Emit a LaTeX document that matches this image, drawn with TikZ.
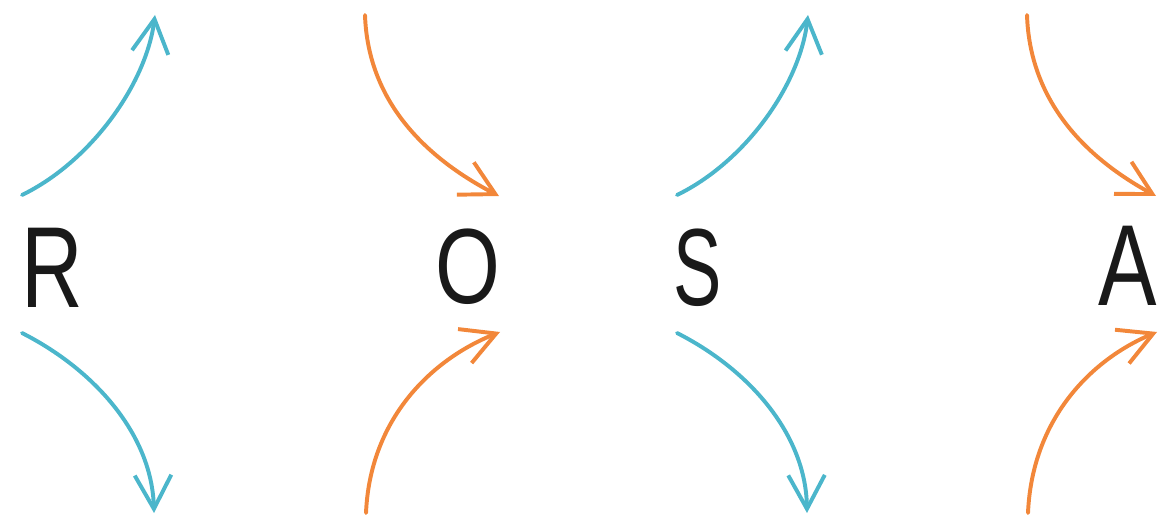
\documentclass[tikz,border=0pt]{standalone}
\usepackage{fontspec}
\setmainfont{Liberation Sans}
\usetikzlibrary{arrows.meta}
\definecolor{arrblue}{HTML}{4BB6CB}
\definecolor{arrorange}{HTML}{F2873A}
\tikzset{
  letter/.style={inner sep=0pt, outer sep=0pt, text=black!90, font=\fontsize{82}{82}\selectfont},
  curvearrow/.style={line width=2.8pt, line cap=round, line join=round,
    -{Straight Barb[length=24pt,width=26pt,line width=2.8pt]}},
  bluearr/.style={curvearrow, draw=arrblue},
  orangearr/.style={curvearrow, draw=arrorange}
}
\begin{document}
\begin{tikzpicture}[x=0.025cm,y=-0.025cm]
\useasboundingbox (0,0) rectangle (1160,518);
% letters
\node[letter] (R) at (52,268) {\scalebox{0.74}[1]{R}};
\node[letter,font=\fontsize{76}{76}\selectfont] (O) at (468,267) {\scalebox{0.78}[1]{O}};
\node[letter,font=\fontsize{78}{78}\selectfont] (S) at (698,268) {\scalebox{0.66}[1]{S}};
\node[letter] (A) at (1128,266) {\scalebox{0.76}[1]{A}};
% R group
\coordinate (r1s) at (22,195);  \coordinate (r1e) at (155,15);
\coordinate (r2s) at (22,333);  \coordinate (r2e) at (154,513);
\draw[bluearr] (r1s) .. controls (90,162) and (146,85) .. (r1e);
\draw[bluearr] (r2s) .. controls (95,370) and (152,435) .. (r2e);
% O group
\coordinate (o1s) at (365,15);  \coordinate (o1e) at (499,196);
\coordinate (o2s) at (366,513); \coordinate (o2e) at (500,332);
\draw[orangearr] (o1s) .. controls (368,105) and (430,160) .. (o1e);
\draw[orangearr] (o2s) .. controls (370,420) and (430,360) .. (o2e);
% S group
\coordinate (s1s) at (677,195); \coordinate (s1e) at (808,15);
\coordinate (s2s) at (677,333); \coordinate (s2e) at (807,513);
\draw[bluearr] (s1s) .. controls (745,162) and (800,85) .. (s1e);
\draw[bluearr] (s2s) .. controls (750,370) and (806,435) .. (s2e);
% A group
\coordinate (a1s) at (1027,15); \coordinate (a1e) at (1156,196);
\coordinate (a2s) at (1028,513); \coordinate (a2e) at (1157,332);
\draw[orangearr] (a1s) .. controls (1030,105) and (1090,160) .. (a1e);
\draw[orangearr] (a2s) .. controls (1032,420) and (1090,360) .. (a2e);
\end{tikzpicture}
\end{document}
